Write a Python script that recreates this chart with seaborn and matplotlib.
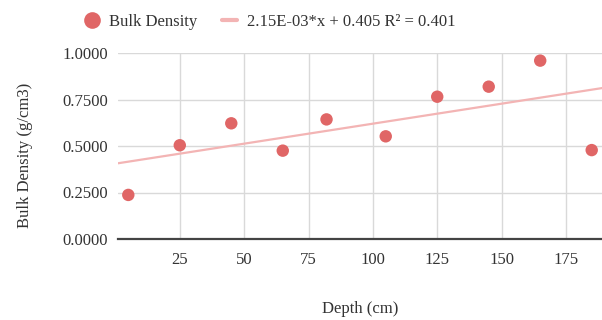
import matplotlib
matplotlib.use("Agg")
import matplotlib.pyplot as plt
from matplotlib.lines import Line2D
import numpy as np
import pandas as pd
import seaborn as sns

# Soil core measurements
depth_cm = [5, 25, 45, 65, 82, 105, 125, 145, 165, 185]
bulk_density = [0.237, 0.504, 0.622, 0.475, 0.643, 0.552, 0.765, 0.819, 0.959, 0.478]

# Linear trendline coefficients and fit quality
trend_slope = 2.15e-03
trend_intercept = 0.405
trend_r2 = 0.401

x_ticks = [25, 50, 75, 100, 125, 150, 175]
y_ticks = [0.0, 0.25, 0.5, 0.75, 1.0]

sns.set_theme(style="whitegrid")
plt.rcParams["font.family"] = ["Liberation Serif", "DejaVu Serif"]

point_color = "#e06666"
trend_color = "#f3b4b4"
grid_color = "#d9d9d9"
text_color = "#333333"

df = pd.DataFrame({"Depth (cm)": depth_cm, "Bulk Density": bulk_density})

fig = plt.figure(figsize=(6.02, 3.2), dpi=100)
ax = fig.add_axes([118 / 602, 81 / 320, 484 / 602, 186 / 320])

x_min, x_max = 1, 189
trend_x = np.array([x_min, x_max])
trend_y = trend_intercept + trend_slope * trend_x
sns.lineplot(x=trend_x, y=trend_y, ax=ax, color=trend_color, linewidth=1.6, zorder=2)

sns.scatterplot(data=df, x="Depth (cm)", y="Bulk Density", ax=ax,
                color=point_color, s=80, edgecolor="none", zorder=3, clip_on=False)

ax.set_xlim(x_min, x_max)
ax.set_ylim(0, 1.0)
ax.set_xticks(x_ticks)
ax.set_yticks(y_ticks)
ax.set_yticklabels([f"{v:.4f}" for v in y_ticks])
ax.grid(True, color=grid_color, linewidth=1.0)
for side in ["top", "right", "left"]:
    ax.spines[side].set_visible(False)
ax.spines["bottom"].set_visible(True)
ax.spines["bottom"].set_color("#444444")
ax.spines["bottom"].set_linewidth(1.6)
ax.spines["bottom"].set_zorder(4)

ax.tick_params(axis="x", length=0, pad=9, labelsize=12, labelcolor=text_color)
ax.tick_params(axis="y", length=0, pad=7, labelsize=12, labelcolor=text_color)

ax.set_xlabel("Depth (cm)", fontsize=12, color=text_color, labelpad=24)
ax.set_ylabel("Bulk Density (g/cm3)", fontsize=12, color=text_color)
ax.yaxis.set_label_coords(-0.176, 0.45)

handles = [
    Line2D([], [], marker="o", linestyle="none", markersize=12,
           markerfacecolor=point_color, markeredgecolor="none"),
    Line2D([], [], color=trend_color, linewidth=3),
]
labels = [
    "Bulk Density",
    f"{trend_slope:.2E}*x + {trend_intercept:.3f} R\u00b2 = {trend_r2:.3f}",
]
leg = fig.legend(handles, labels, loc="center left", bbox_to_anchor=(84 / 602, 1 - 22 / 320),
                 ncol=2, frameon=False, fontsize=12, handlelength=0.9,
                 handletextpad=0.6, columnspacing=1.5, labelcolor=text_color,
                 borderaxespad=0, borderpad=0)

fig.savefig("out.png", dpi=100)
